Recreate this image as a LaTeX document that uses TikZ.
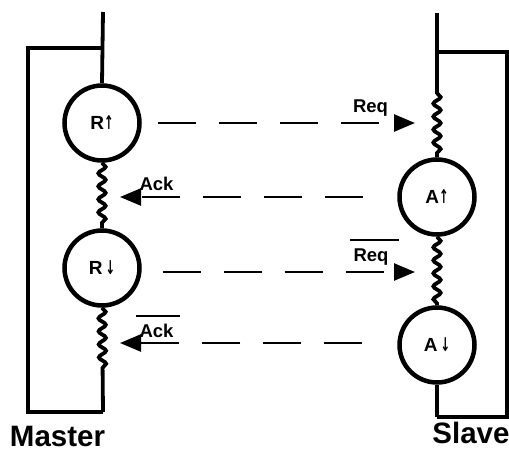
\documentclass[tikz,border=0pt]{standalone}
\usepackage{graphicx}
\usepackage{fontspec}
\setmainfont{Liberation Sans}
\newfontfamily\arrowfont{DejaVu Sans}
\newcommand\uparr{{\arrowfont\bfseries\scalebox{0.6}[1]{↑}}}
\newcommand\dnarr{{\arrowfont\bfseries\scalebox{0.6}[1]{↓}}}
\usetikzlibrary{arrows.meta,decorations.pathmorphing}
\begin{document}
\begin{tikzpicture}[x=1pt,y=-1pt,
  wire/.style={line width=3.8pt,line join=miter},
  state/.style={circle,draw,line width=4.5pt,minimum size=75pt,inner sep=0pt,font=\bfseries\fontsize{19}{19}\selectfont},
  wiggle/.style={decorate,decoration={snake,amplitude=3.6pt,segment length=13pt,#1}},
  wiggle/.default={},
  sig/.style={line width=2.6pt,dash pattern=on 38pt off 23pt,-{Triangle[length=21pt,width=17pt]}},
  lbl/.style={inner sep=0pt,anchor=base,font=\bfseries\fontsize{18.5}{18.5}\selectfont},
  bar/.style={line width=2pt},
  big/.style={inner sep=0pt,anchor=base,font=\bfseries\fontsize{29.5}{29.5}\selectfont}]
\useasboundingbox (0,0) rectangle (509,456);
% master
\coordinate (mtop) at (103,12);
\coordinate (mcorner) at (103,48);
\coordinate (mbot) at (103,412);
\coordinate (mbl) at (28,412);
\coordinate (mtl) at (28,48);
\node[state] (Rup) at (102,123) {R\uparr};
\node[state] (Rdn) at (102,268) {R\,\dnarr};
\draw[wire] (mtop) -- (Rup.north);
\draw[wire,wiggle] (Rup.south) -- (Rdn.north);
\draw[wire,wiggle={post length=38pt}] (Rdn.south) -- (mbot);
\draw[wire] (mcorner) -- (mtl) -- (mbl) -- (mbot);
% slave
\coordinate (stop) at (437,13);
\coordinate (scorner) at (437,52);
\coordinate (sbot) at (437,417);
\coordinate (str) at (507,52);
\coordinate (sbr) at (507,417);
\node[state] (Aup) at (437,197) {A\uparr};
\node[state] (Adn) at (437,345) {A\,\dnarr};
\draw[wire,wiggle={pre length=80pt}] (stop) -- (Aup.north);
\draw[wire,wiggle] (Aup.south) -- (Adn.north);
\draw[wire] (Adn.south) -- (sbot);
\draw[wire] (scorner) -- (str) -- (sbr) -- (sbot);
% signals
\draw[sig,shorten <=16pt,shorten >=22pt] (Rup.east) -- (Rup.east -| stop);
\draw[sig,shorten <=34pt,shorten >=17pt] (Aup.west) -- (Aup.west -| mtop);
\draw[sig,shorten <=21pt,shorten >=22pt] ([yshift=-4pt]Rdn.east) -- ([yshift=-4pt]Rdn.east -| stop);
\draw[sig,shorten <=35pt,shorten >=17pt] ([yshift=2pt]Adn.west) -- ([yshift=2pt]Adn.west -| mtop);
% labels
\node[lbl] (req) at (370.5,112) {Req};
\node[lbl] (ack) at (156.5,190) {Ack};
\node[lbl] (reqb) at (371,261) {Req};
\node[lbl] (ackb) at (156.5,337) {Ack};
\draw[bar] ([xshift=-3pt,yshift=8pt]reqb.north west) -- ([xshift=10pt,yshift=8pt]reqb.north east);
\draw[bar] ([xshift=-3pt,yshift=7pt]ackb.north west) -- ([xshift=6pt,yshift=7pt]ackb.north east);
\node[big] (master) at (57.5,446) {Master};
\node[big] (slave) at (471,443) {Slave};
\end{tikzpicture}
\end{document}
